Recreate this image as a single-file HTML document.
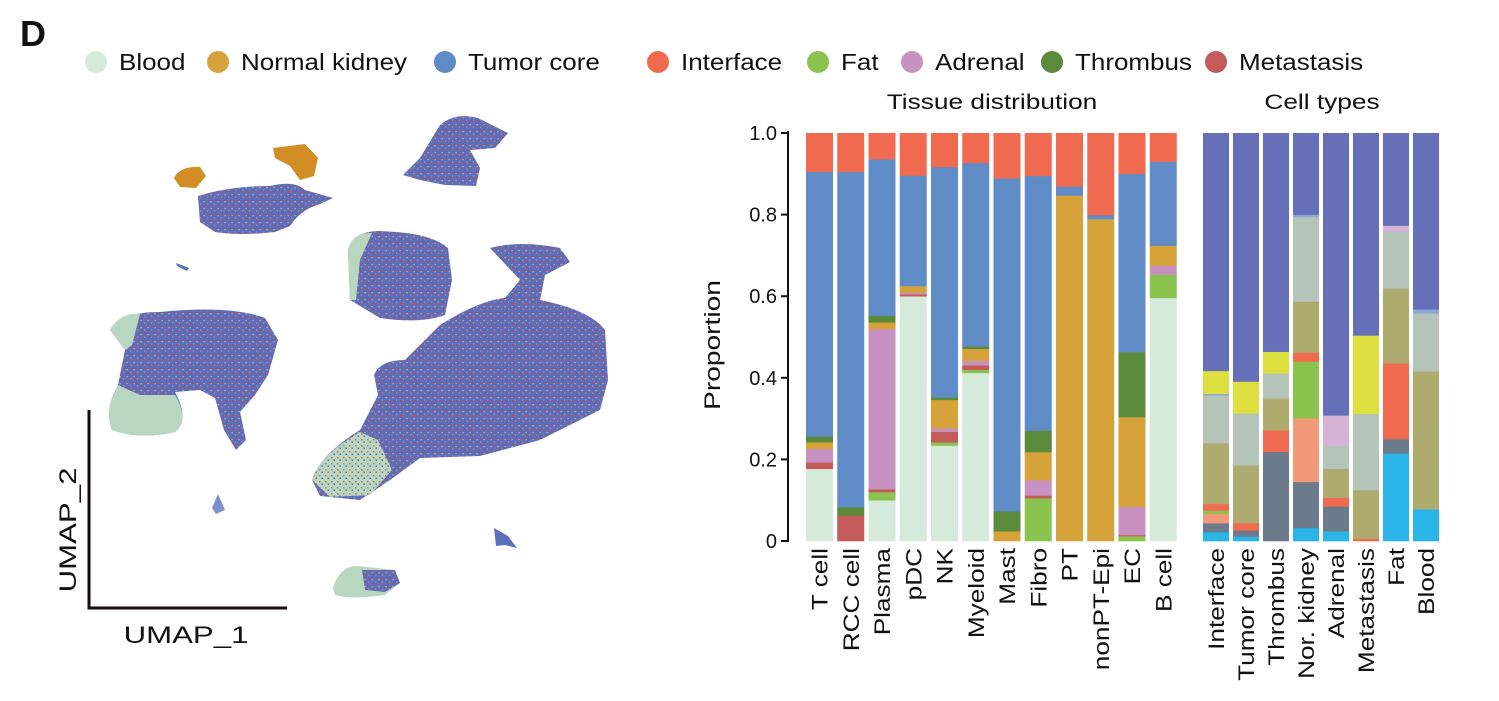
<!DOCTYPE html>
<html><head><meta charset="utf-8">
<style>
body{margin:0;background:#fff;width:1499px;height:701px;overflow:hidden;font-family:"Liberation Sans",Arial,sans-serif;}
svg{display:block}
text{font-family:"Liberation Sans",Arial,sans-serif;fill:#111}
</style></head>
<body>
<svg id="fig" width="1499" height="701" viewBox="0 0 1499 701">
<defs>
<pattern id="mix" width="7" height="7" patternUnits="userSpaceOnUse">
<rect width="7" height="7" fill="#5a70bd"/>
<rect x="1" y="1" width="2" height="1.5" fill="#b9485a"/>
<rect x="4.5" y="4" width="2" height="1.5" fill="#c04b55"/>
<rect x="4" y="0.5" width="1.2" height="1.2" fill="#8a9ad6"/>
<rect x="0.5" y="5" width="1.2" height="1.2" fill="#a9c8b3"/>
</pattern>
<pattern id="mixg" width="6" height="6" patternUnits="userSpaceOnUse">
<rect width="6" height="6" fill="#b9d6c0"/>
<rect x="1" y="1" width="1.5" height="1.5" fill="#c9704e"/>
<rect x="3.5" y="3.5" width="1.5" height="1.5" fill="#5a6cb8"/>
</pattern>
</defs>
<text x="20" y="46" font-size="36" font-weight="bold">D</text>
<g id="legend"></g>
<g id="umap">
<path d="M174,178 Q180,166 200,167 L206,176 L196,188 L180,187 Z" fill="#d28d24"/>
<path d="M273,148 L305,144 L318,158 L314,176 L300,180 L290,166 L275,158 Z" fill="#d28d24"/>
<path d="M198,196 Q230,186 270,186 Q295,180 305,190 L333,198 L320,204 Q300,210 290,226 L275,232 Q240,236 215,232 L200,222 Z" fill="url(#mix)"/>
<path d="M403,175 L420,158 L440,125 Q455,112 478,118 L508,133 L495,148 L470,150 L480,168 L476,186 L445,185 L420,180 Z" fill="url(#mix)"/>
<path d="M348,250 Q352,232 378,231 Q430,232 448,248 L452,280 L445,315 Q420,324 380,318 L350,300 Z" fill="url(#mix)"/>
<path d="M348,250 Q352,232 372,233 L360,260 L356,300 L350,300 Z" fill="#b9d6c0"/>
<path d="M312,480 Q320,455 360,430 L378,395 L374,375 Q380,360 405,360 L440,325 Q480,300 505,298 L520,280 L490,248 Q520,240 560,248 L570,262 L545,275 L540,300 Q590,310 605,330 L608,380 L600,410 L580,420 L540,440 L480,456 L420,458 L390,480 L360,500 L320,496 Z" fill="url(#mix)"/>
<path d="M312,480 Q320,455 360,432 L378,440 L392,470 L370,495 L330,497 Z" fill="url(#mixg)"/>
<path d="M110,330 Q120,312 160,312 Q230,305 265,318 L278,340 L268,375 L255,395 L240,412 L246,440 L236,450 L224,430 L215,398 L200,390 L175,392 Q190,420 175,432 Q140,440 112,430 Q104,410 118,385 L125,350 Z" fill="url(#mix)"/>
<path d="M110,330 Q120,312 140,314 L132,345 L125,350 Z" fill="#b9d6c0"/>
<path d="M118,385 L140,395 L175,395 Q190,420 175,432 Q140,440 112,430 Q104,410 118,385 Z" fill="#b9d6c0"/>
<path d="M333,588 Q340,565 358,566 L395,570 L400,583 L385,595 Q350,600 335,595 Z" fill="#b9d6c0"/>
<path d="M362,570 L395,570 L400,583 L385,592 L365,590 Z" fill="url(#mix)"/>
<path d="M494,528 L508,536 L517,548 L505,545 L496,546 Z" fill="#5a70bd"/>
<path d="M212,508 L218,494 L225,510 L216,514 Z" fill="#7e8fd0"/>
<path d="M176,263 L189,268 L187,271 L177,266 Z" fill="#5a70bd"/>
<line x1="89" y1="410" x2="89" y2="609" stroke="#1a0a0a" stroke-width="3"/>
<line x1="87.5" y1="608" x2="287" y2="608" stroke="#1a0a0a" stroke-width="3"/>
<text transform="translate(186,643) scale(1.3,1)" font-size="24" text-anchor="middle">UMAP_1</text>
<text transform="translate(76,530) rotate(-90) scale(1.3,1)" font-size="24" text-anchor="middle">UMAP_2</text>
</g>
<g id="chart1"></g>
<g id="chart2"></g>
</svg>
<script>
const NS='http://www.w3.org/2000/svg';
function mk(tag,attrs,parent){const e=document.createElementNS(NS,tag);for(const k in attrs)e.setAttribute(k,attrs[k]);parent.appendChild(e);return e;}

// Legend
const legendLabels=['Blood','Normal kidney','Tumor core','Interface','Fat','Adrenal','Thrombus','Metastasis'];
const legendColors=['#d5eadb','#d6a33a','#5f8cc6','#f06a50','#8bc34f','#c792c1','#5a8a3a','#c45a5a'];
const legendX=[96,218,445,658,818,912,1052,1216];
const lg=document.getElementById('legend');
legendLabels.forEach((l,i)=>{
  const c=mk('circle',{cx:legendX[i],cy:62,r:11,fill:legendColors[i]},lg);
  
  
  const t=mk('text',{transform:'translate('+(legendX[i]+23)+',70) scale(1.13,1)','font-size':23},lg);
  t.textContent=l;
  
  
});

// Chart 1: tissue distribution (stack order bottom->top)
const tissueCats=['T cell','RCC cell','Plasma','pDC','NK','Myeloid','Mast','Fibro','PT','nonPT-Epi','EC','B cell'];
const tissueSeries=['Blood','Fat','Metastasis','Adrenal','Normal kidney','Thrombus','Tumor core','Interface'];
const tissueColors=['#d5eadb','#8bc34f','#c45a5a','#c792c1','#d6a33a','#5a8a3a','#5f8cc6','#f06a50'];
const blood     =[0.177,0,    0.100,0.600,0.234,0.412,0,    0,    0,    0,    0,    0.596];
const fat       =[0,    0,    0.020,0,    0.008,0.008,0,    0.105,0,    0,    0.012,0.057];
const metastasis=[0.016,0.063,0.007,0.005,0.026,0.011,0,    0.007,0,    0,    0.003,0];
const adrenal   =[0.033,0,    0.393,0.004,0.008,0.011,0,    0.037,0,    0,    0.069,0.022];
const normalKid =[0.016,0,    0.016,0.016,0.070,0.029,0.024,0.069,0.847,0.789,0.220,0.049];
const thrombus  =[0.014,0.020,0.016,0,    0.006,0.006,0.049,0.053,0,    0,    0.159,0];
const tumorCore =[0.649,0.822,0.384,0.271,0.565,0.450,0.816,0.624,0.022,0.010,0.437,0.206];
const interfaceV=[0.095,0.095,0.064,0.104,0.083,0.073,0.111,0.105,0.131,0.201,0.100,0.070];
const tissueValues=[blood,fat,metastasis,adrenal,normalKid,thrombus,tumorCore,interfaceV];
const yTicks=[0,0.2,0.4,0.6,0.8,1.0];
const yTickLabels=['0','0.2','0.4','0.6','0.8','1.0'];

// Chart 2: cell types
const ctCats=['Interface','Tumor core','Thrombus','Nor. kidney','Adrenal','Metastasis','Fat','Blood'];
const ctColors=['#29b5e8','#6b7b8c','#f29a78','#8bc34f','#f06a50','#aeab6f','#b5c4b8','#8fa8d8','#dde03f','#d4b3d4','#6670b8'];
const ct1 =[0.022,0.011,0,    0.032,0.024,0,    0.215,0.078];
const ct2 =[0.022,0.015,0.219,0.113,0.061,0,    0.035,0];
const ct3 =[0.023,0,    0,    0.156,0,    0,    0,    0];
const ct4 =[0.008,0,    0,    0.139,0,    0,    0,    0];
const ct5 =[0.016,0.018,0.053,0.022,0.021,0.006,0.186,0];
const ct6 =[0.149,0.142,0.078,0.125,0.071,0.119,0.183,0.338];
const ct7 =[0.117,0.127,0.061,0.207,0.056,0.187,0.139,0.142];
const ct8 =[0.004,0,    0,    0.006,0,    0,    0,    0.010];
const ct9 =[0.056,0.078,0.053,0,    0,    0.192,0,    0];
const ct10=[0,    0,    0,    0,    0.075,0,    0.015,0];
const ct11=[0.583,0.609,0.536,0.200,0.692,0.496,0.227,0.432];
const ctValues=[ct1,ct2,ct3,ct4,ct5,ct6,ct7,ct8,ct9,ct10,ct11];

const Y0=541, Y1=133;
function y(v){return Y0-(Y0-Y1)*v;}

function drawStack(g,cats,values,colors,x0,pitch,bw,prefix){
  cats.forEach((c,i)=>{
    let acc=0;
    const bx=x0+i*pitch;
    values.forEach((arr,s)=>{
      const v=arr[i];
      if(v>0){
        const r=mk('rect',{x:bx,y:y(acc+v),width:bw,height:y(acc)-y(acc+v)+0.3,fill:colors[s]},g);
        
        
      }
      acc+=v;
    });
    const t=mk('text',{transform:'translate('+(bx+bw/2+8)+',548) rotate(-90) scale(1.19,1)','font-size':22,'text-anchor':'end'},g);
    t.textContent=c;
    
    
  });
}

const g1=document.getElementById('chart1');
const ax=mk('line',{x1:788,y1:Y1-2,x2:788,y2:Y0+1,stroke:'#111','stroke-width':2},g1);


yTicks.forEach((v,i)=>{
  const tk=mk('line',{x1:781,x2:788,y1:y(v),y2:y(v),stroke:'#111','stroke-width':2},g1);
  
  
  const t=mk('text',{x:777,y:y(v)+7,'font-size':20,'text-anchor':'end'},g1);
  t.textContent=yTickLabels[i];
  
  
});
const yt=mk('text',{transform:'translate(720,345) rotate(-90) scale(1.28,1)','font-size':22,'text-anchor':'middle'},g1);
yt.textContent='Proportion';


const t1=mk('text',{transform:'translate(992,109) scale(1.25,1)','font-size':21,'text-anchor':'middle'},g1);
t1.textContent='Tissue distribution';


drawStack(g1,tissueCats,tissueValues,tissueColors,806,31.25,27,'tissue');

const g2=document.getElementById('chart2');
const t2=mk('text',{transform:'translate(1322,109) scale(1.25,1)','font-size':21,'text-anchor':'middle'},g2);
t2.textContent='Cell types';


drawStack(g2,ctCats,ctValues,ctColors,1203,30,26,'celltype');
</script>
</body></html>
